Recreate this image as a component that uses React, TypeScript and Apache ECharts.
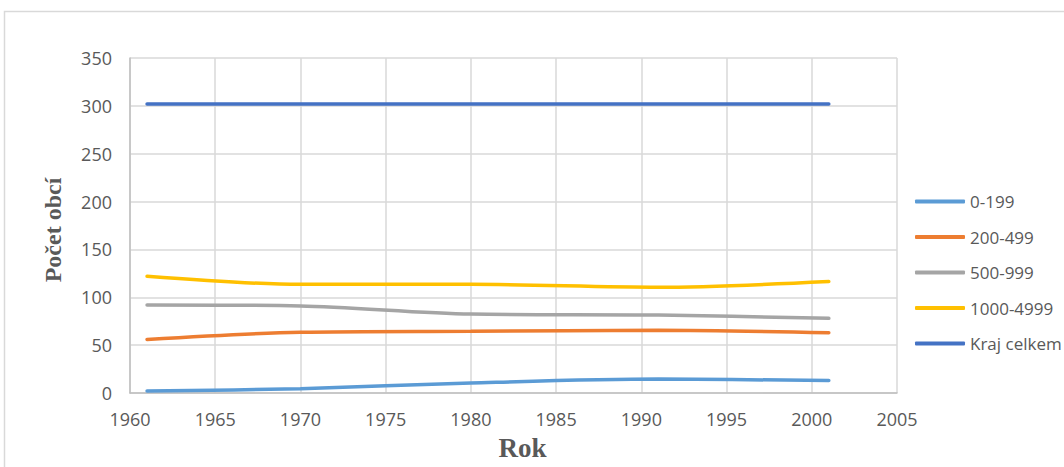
import React, { useEffect, useRef } from "react";
import * as echarts from "echarts";

const years = [1961, 1970, 1980, 1991, 2001];
const s0_199 = [2, 4.5, 10.5, 14.5, 13];
const s200_499 = [56, 63.5, 64.5, 65.5, 63];
const s500_999 = [92, 91, 82.5, 81.5, 78];
const s1000_4999 = [122, 113.5, 113.5, 110.5, 116.5];
const krajCelkem = [302, 302, 302, 302, 302];

const seriesNames = ["0-199", "200-499", "500-999", "1000-4999", "Kraj celkem"];
const seriesValues = [s0_199, s200_499, s500_999, s1000_4999, krajCelkem];
const colors = ["#5B9BD5", "#ED7D31", "#A5A5A5", "#FFC000", "#4472C4"];

const labelFont = "'Open Sans', 'Noto Sans', sans-serif";
const titleFont = "'Liberation Serif', 'DejaVu Serif', serif";

export default function App() {
  const ref = useRef<HTMLDivElement>(null);
  useEffect(() => {
    if (!ref.current) return;
    const chart = echarts.init(ref.current, null, { renderer: "svg" });
    chart.setOption({
      animation: false,
      backgroundColor: "#ffffff",
      color: colors,
      graphic: [
        {
          type: "rect",
          shape: { x: 4.5, y: 11.5, width: 1200, height: 600 },
          style: { fill: "none", stroke: "#d9d9d9", lineWidth: 1.5 },
          silent: true,
        },
      ],
      grid: { left: 130, right: 167, top: 58, bottom: 74 },
      legend: {
        orient: "vertical",
        left: 910,
        top: 188,
        itemWidth: 50,
        itemHeight: 4,
        itemGap: 18.5,
        icon: "roundRect",
        textStyle: { color: "#595959", fontSize: 17, fontFamily: labelFont },
        data: seriesNames,
      },
      xAxis: {
        type: "value",
        min: 1960,
        max: 2005,
        interval: 5,
        name: "Rok",
        nameLocation: "middle",
        nameGap: 41,
        nameTextStyle: {
          color: "#595959",
          fontSize: 27,
          fontWeight: "bold",
          fontFamily: titleFont,
          padding: [0, 0, 0, 18],
        },
        axisLine: { show: true, lineStyle: { color: "#bfbfbf", width: 1.5 } },
        axisTick: { show: false },
        axisLabel: {
          color: "#595959",
          fontSize: 18,
          fontFamily: labelFont,
          margin: 17,
          formatter: (v: number) => String(v),
        },
        splitLine: { show: true, lineStyle: { color: "#d9d9d9", width: 1.5 } },
      },
      yAxis: {
        type: "value",
        min: 0,
        max: 350,
        interval: 50,
        name: "Počet obcí",
        nameLocation: "middle",
        nameGap: 65,
        nameTextStyle: {
          color: "#595959",
          fontSize: 24,
          fontWeight: "bold",
          fontFamily: titleFont,
          padding: [0, 9, 0, 0],
        },
        axisLine: { show: true, lineStyle: { color: "#bfbfbf", width: 1.5 } },
        axisTick: { show: false },
        axisLabel: { color: "#595959", fontSize: 18, fontFamily: labelFont, margin: 18 },
        splitLine: { show: true, lineStyle: { color: "#d9d9d9", width: 1.5 } },
      },
      series: seriesNames.map((name, i) => ({
        name,
        type: "line",
        smooth: 0.3,
        symbol: "none",
        lineStyle: { width: 3.5, color: colors[i], cap: "round" },
        itemStyle: { color: colors[i] },
        data: years.map((y, j) => [y, seriesValues[i][j]]),
      })),
    });
    return () => chart.dispose();
  }, []);
  return (
    <div
      ref={ref}
      style={{ position: "absolute", left: 0, top: 0, width: 1064, height: 467 }}
    />
  );
}
